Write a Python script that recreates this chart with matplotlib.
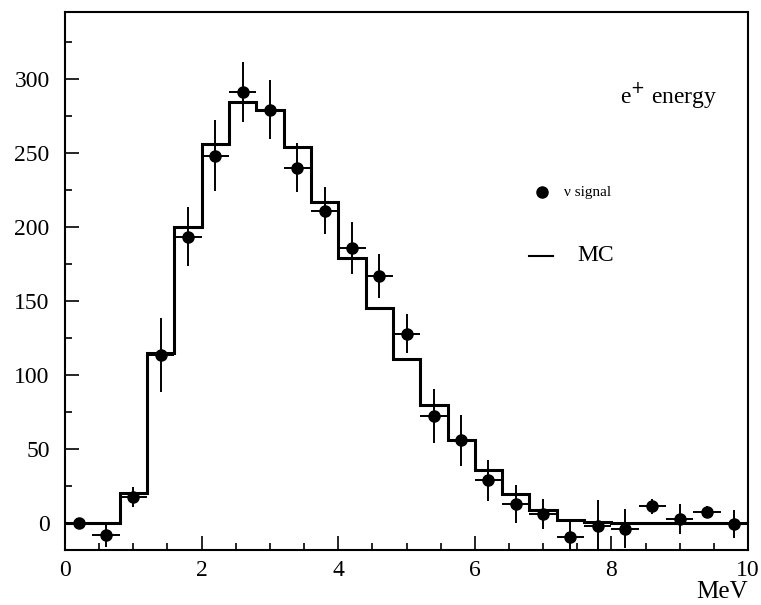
import numpy as np
from matplotlib import pyplot as plt
from matplotlib.ticker import MultipleLocator

# bin edges of 0.4 MeV, 25 bins
bin_edges = np.arange(0, 10.01, 0.4)
bin_centers = bin_edges[:-1] + 0.2

mc_values = [0, 0, 20.5, 115, 200, 256, 284, 279, 254, 217, 179, 145, 111, 80,
             56, 36, 20, 9, 2.5, 1, 0, 0, 0, 0, 0]

signal_values = [0, -7.7, 17.8, 113.5, 193.5, 248, 291, 279, 240, 211, 186, 167,
                 128, 72.5, 56, 29, 13, 6.5, -9, -1.5, -3.5, 11.5, 3, 7.7, -0.5]
signal_errors = [3, 8.5, 7, 25, 20, 24, 20.5, 20, 16.5, 16, 17.5, 15,
                 13, 18, 17, 14, 13, 10, 12, 17, 13, 5, 10, 4, 9.5]

plt.rcParams['font.family'] = ['Liberation Serif', 'DejaVu Serif']

fig = plt.figure(figsize=(7.61, 6.05), dpi=100)
ax = fig.add_axes([0.0854, 0.0909, 0.8976, 0.8893])

# MC histogram, drawn as a step line
ax.stairs(mc_values, bin_edges, color='black', linewidth=2.2, baseline=None)

# data points with errors
ax.errorbar(bin_centers, signal_values, yerr=signal_errors, xerr=0.2,
            fmt='o', color='black', markersize=8, elinewidth=1.4, capsize=0)

ax.set_xlim(0, 10)
ax.set_ylim(-18, 345)
ax.xaxis.set_major_locator(MultipleLocator(2))
ax.xaxis.set_minor_locator(MultipleLocator(0.5))
ax.yaxis.set_major_locator(MultipleLocator(50))
ax.yaxis.set_minor_locator(MultipleLocator(25))
ax.tick_params(which='both', direction='in', top=False, right=False, labelsize=17)
ax.tick_params(which='major', length=10, width=1.2)
ax.tick_params(which='minor', length=5, width=1.2)
ax.tick_params(axis='x', pad=7)
ax.tick_params(axis='y', pad=11)
for sp in ax.spines.values():
    sp.set_linewidth(1.5)

ax.text(0.955, 0.83, 'e$^{+}$ energy', transform=ax.transAxes, ha='right',
        fontsize=17)
ax.text(1.0, -0.058, 'MeV', transform=ax.transAxes, ha='right', va='top', fontsize=18)

# legend by hand
ax.plot([0.698], [0.665], 'o', color='black', markersize=8, transform=ax.transAxes)
ax.text(0.73, 0.665, 'ν signal', transform=ax.transAxes, va='center', fontsize=11)
ax.plot([0.68, 0.715], [0.547, 0.547], color='black', linewidth=1.5, transform=ax.transAxes)
ax.text(0.75, 0.547, 'MC', transform=ax.transAxes, va='center', fontsize=17)

plt.savefig('out.png', dpi=100)
